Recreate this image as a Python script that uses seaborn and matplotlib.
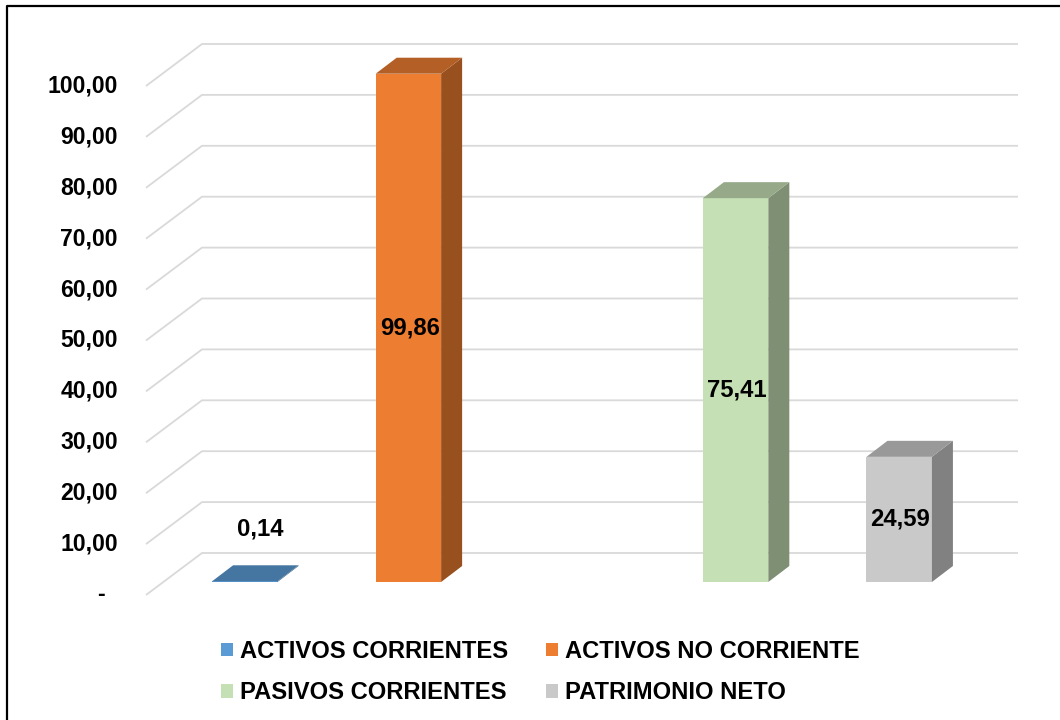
import matplotlib
matplotlib.use("Agg")
import matplotlib.pyplot as plt
import matplotlib.colors as mcolors
from matplotlib.patches import Polygon, Patch
from matplotlib.lines import Line2D
import numpy as np
import pandas as pd
import seaborn as sns

# ---------------- data ----------------
categories = ["ACTIVOS CORRIENTES", "ACTIVOS NO CORRIENTE",
              "PASIVOS CORRIENTES", "PATRIMONIO NETO"]
values = [0.14, 99.86, 75.41, 24.59]
value_labels = ["0,14", "99,86", "75,41", "24,59"]
colors = ["#5b9bd5", "#ed7d31", "#c5e0b4", "#c9c9c9"]
ytick_values = [0, 10, 20, 30, 40, 50, 60, 70, 80, 90, 100]
ytick_labels = ["-", "10,00", "20,00", "30,00", "40,00", "50,00",
                "60,00", "70,00", "80,00", "90,00", "100,00"]

# ---------------- style ----------------
sns.set_theme(style="white")
plt.rcParams['font.family'] = ['Liberation Sans', 'DejaVu Sans']
plt.rcParams['font.weight'] = 'bold'
plt.rcParams['text.color'] = 'black'

W, H = 1060, 720
fig = plt.figure(figsize=(W / 100, H / 100), dpi=100)
fig.patch.set_facecolor('white')
ax = fig.add_axes([163 / W, 138 / H, 818 / W, 509 / H])

order = categories[:2] + [" "] + categories[2:]
df = pd.DataFrame({"cuenta": categories, "valor": values})
sns.barplot(data=df, x="cuenta", y="valor", hue="cuenta", order=order,
            hue_order=categories, palette=colors, width=0.4, dodge=False,
            saturation=1, legend=False, errorbar=None, linewidth=0,
            ax=ax, zorder=3)
ax.set_xlim(-0.5, len(order) - 0.5)
ax.set_ylim(0, 100)
ax.axis('off')

to_disp = ax.transData.transform
to_data = ax.transData.inverted().transform

DX, DY = 21, 16   # bar depth (px)
FX, FY = 17, 13   # front gap (px)
BX, BY = 39, 29   # back wall (px)

# gridlines (3D floor/wall style)
x_left, x_right = ax.get_xlim()
for v in ytick_values:
    lx, ly = to_disp((x_left, v))
    rx, ry = to_disp((x_right, v))
    pts = np.array([[lx - FX, ly - FY], [lx + BX, ly + BY], [rx + BX - 2, ry + BY]])
    d = to_data(pts)
    ax.add_line(Line2D(d[:, 0], d[:, 1], color="#d9d9d9", lw=1.3,
                       clip_on=False, zorder=1, solid_capstyle='butt'))

# y labels at front edge
for v, lab in zip(ytick_values, ytick_labels):
    lx, ly = to_disp((x_left, v))
    extra = 13 if lab == "-" else 0
    p = to_data((lx - FX - 28 - extra, ly - FY))
    ax.text(p[0], p[1], lab, ha='right', va='center', fontsize=16.6,
            fontweight='bold', clip_on=False)

# 3D faces + value labels
vals = np.array(values)
for patch in list(ax.patches):
    x0 = patch.get_x(); w = patch.get_width(); h = patch.get_height()
    if w == 0:
        continue
    px0, py0 = to_disp((x0, 0))
    px1, py1 = to_disp((x0 + w, h))
    fc = np.array(mcolors.to_rgb(patch.get_facecolor()))
    top = np.array([[px0, py1], [px1, py1], [px1 + DX, py1 + DY], [px0 + DX, py1 + DY]])
    side = np.array([[px1, py0], [px1 + DX, py0 + DY], [px1 + DX, py1 + DY], [px1, py1]])
    ax.add_patch(Polygon(to_data(side), closed=True, fc=fc * 0.64, ec='none',
                         clip_on=False, zorder=3))
    ax.add_patch(Polygon(to_data(top), closed=True, fc=fc * 0.76, ec='none',
                         clip_on=False, zorder=3))
    idx = int(np.argmin(np.abs(vals - h)))
    cx = x0 + w / 2
    if h < 5:
        ax.annotate(value_labels[idx], (cx, h), xytext=(15.5 * 0.72, 52 * 0.72),
                    textcoords='offset points', ha='center', va='center',
                    fontsize=17.2, fontweight='bold', zorder=5, annotation_clip=False)
    else:
        ax.text(cx + 0.008, h / 2, value_labels[idx], ha='center', va='center',
                fontsize=17.2, fontweight='bold', zorder=5)

# legend
handles = [Patch(fc=c, ec='none') for c in colors]
lo = [0, 2, 1, 3]
fig.legend(handles=[handles[i] for i in lo], labels=[categories[i] for i in lo],
           ncol=2, loc='center', bbox_to_anchor=(540 / W, 1 - 672 / H),
           frameon=False, prop={'weight': 'bold', 'size': 17.1},
           handlelength=0.5, handleheight=0.5, handletextpad=0.3,
           columnspacing=1.6, labelspacing=0.78, borderpad=0)

# chart border (top and left visible)
fig.add_artist(Line2D([7 / W, 7 / W, 1], [0, 1 - 6 / H, 1 - 6 / H],
                      transform=fig.transFigure, color='black', lw=1.6))

fig.savefig("out.png", dpi=100, facecolor='white')
